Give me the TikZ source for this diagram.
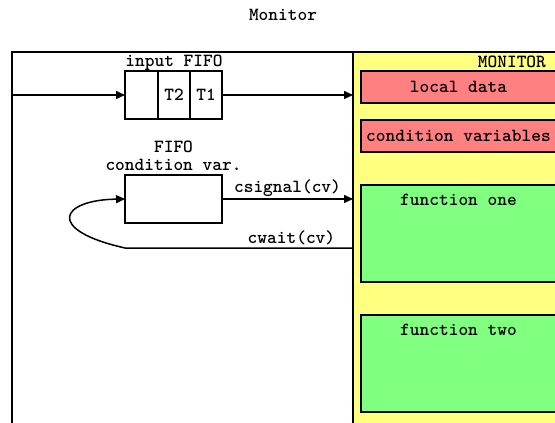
\documentclass[tikz,border=0pt]{standalone}
\usetikzlibrary{positioning,arrows.meta}
\definecolor{monyellow}{HTML}{FFFF80}
\definecolor{datared}{HTML}{FF8080}
\definecolor{funcgreen}{HTML}{80FF80}
\begin{document}
\begin{tikzpicture}[x=1pt,y=-1pt,line width=1.5pt,
    font=\ttfamily\bfseries\fontsize{18.5}{18}\selectfont,
    >={Triangle[length=9pt,width=8pt]}]
  \tikzset{cell/.style={draw,minimum height=48pt,inner sep=0pt,outer sep=0pt},
           part/.style={draw,fill=#1,anchor=north west,minimum width=195pt,inner sep=0pt,outer sep=0pt}}
  \useasboundingbox (0,0) rectangle (555,423);
  \clip (0,0) rectangle (555,423);
  \node (title) at (283,15) {Monitor};
  % the monitor itself
  \fill[monyellow] (353,52) rectangle (570,430);
  \draw (12,430) -- (12,52) -- (570,52);
  \coordinate (mleft) at (353,52);
  \draw (mleft) -- (353,430);
  \node[anchor=east] (mon) at (550,62) {MONITOR};
  \node[part=datared,minimum height=32pt] (data) at (361,71) {local data};
  \node[part=datared,minimum height=32pt] (cvars) at (361,120) {condition variables};
  \node[part=funcgreen,minimum height=97pt] (fone) at (361,185) {};
  \node[below=5pt of fone.north] (fonelbl) {function one};
  \node[part=funcgreen,minimum height=97pt] (ftwo) at (361,315) {};
  \node[below=5pt of ftwo.north] (ftwolbl) {function two};
  % input fifo
  \node[cell,minimum width=33pt,anchor=north west] (c3) at (125,71) {};
  \node[cell,minimum width=32pt,right=0pt of c3] (c2) {T2};
  \node[cell,minimum width=32pt,right=0pt of c2] (c1) {T1};
  \node[above=0pt of c2,inner sep=0pt] (inlbl) {input FIFO};
  \coordinate (in) at (12,95);
  \draw[->] (in) -- (c3.west);
  \draw[->] (c1.east) -- (c1.east -| mleft);
  % condition variable fifo
  \node[cell,minimum width=97pt,anchor=north west] (cv) at (125,175) {};
  \node[above=0pt of cv,align=center] (cvlbl) {FIFO\\condition var.};
  \draw[->] (cv.east) -- node[above,inner sep=2pt] {csignal(cv)} (cv.east -| mleft);
  \coordinate (wt) at (125,248);
  \draw[->] (wt -| mleft) -- node[above,pos=0.27,inner sep=2pt] {cwait(cv)} (wt)
    .. controls (45,230) and (60,200) .. (cv.west);
\end{tikzpicture}
\end{document}
